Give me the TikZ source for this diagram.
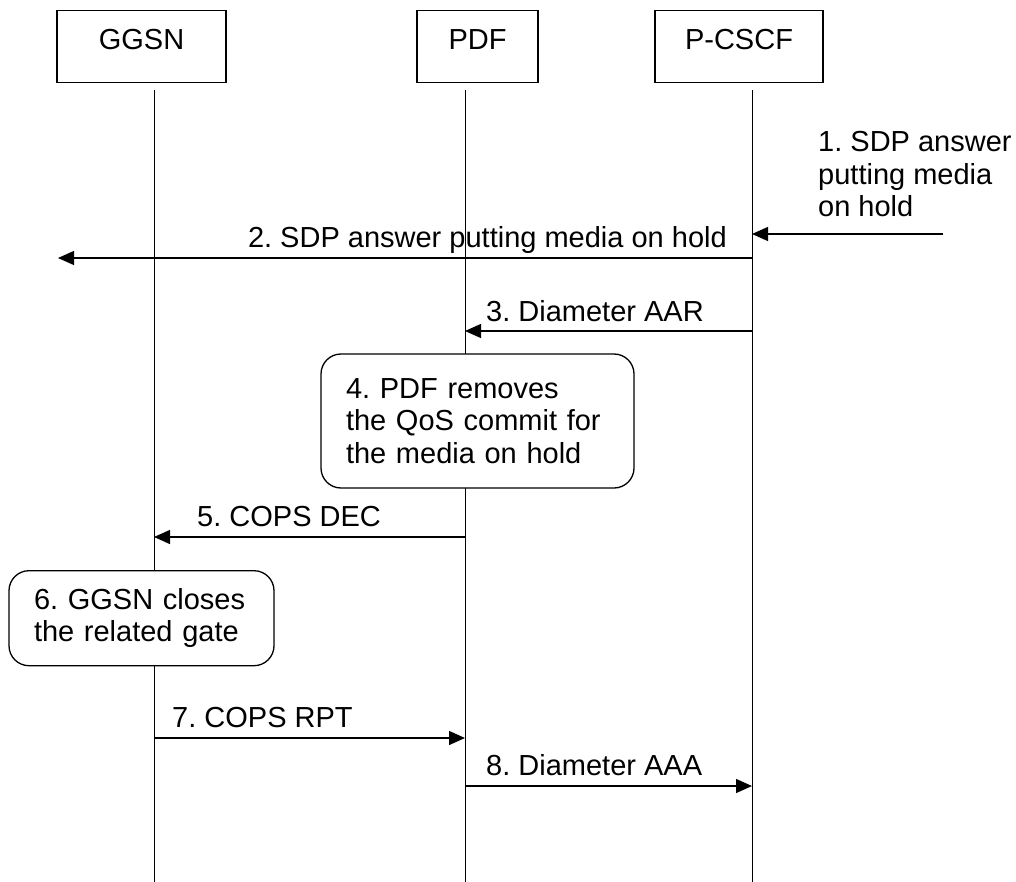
\documentclass[tikz,border=0pt]{standalone}
\usepackage{fontspec}
\setmainfont{Liberation Sans}
\usetikzlibrary{arrows.meta}
\begin{document}
\frenchspacing
\begin{tikzpicture}[x=1pt,y=-1pt,
  every node/.style={font=\fontsize{29}{32.5}\selectfont\frenchspacing},
  entbox/.style={draw,line width=1.6pt,minimum height=72pt,inner sep=0pt,text height=21pt,text depth=16pt},
  procbox/.style={draw,line width=1.3pt,rounded corners=20pt,inner xsep=25pt,inner ysep=0pt,align=left},
  lifeline/.style={line width=1pt},
  msg/.style={line width=1.3pt,-{Triangle[length=16pt,width=14pt]}},
  lbl/.style={inner sep=0pt}
]
\useasboundingbox (0,0) rectangle (1016,882);
% entities
\node[entbox,minimum width=169pt] (ggsn) at (141.5,46.7) {GGSN};
\node[entbox,minimum width=121pt] (pdf) at (477.5,46.7) {PDF};
\node[entbox,minimum width=168pt] (pcscf) at (739,46.7) {P-CSCF};
% lifelines
\coordinate (gtop) at (154,90);  \coordinate (gbot) at (154,882);
\coordinate (ptop) at (465,90);  \coordinate (pbot) at (465,882);
\coordinate (ctop) at (752,90);  \coordinate (cbot) at (752,882);
\draw[lifeline] (gtop) -- (gbot);
\draw[lifeline] (ptop) -- (pbot);
\draw[lifeline] (ctop) -- (cbot);
% message end points
\coordinate (m1s) at (943,234); \coordinate (m1e) at (752,234);
\coordinate (m2s) at (752,258); \coordinate (m2e) at (58,258);
\coordinate (m3s) at (752,331); \coordinate (m3e) at (465,331);
\coordinate (m5s) at (465,537); \coordinate (m5e) at (154,537);
\coordinate (m7s) at (154,738); \coordinate (m7e) at (465,738);
\coordinate (m8s) at (465,786); \coordinate (m8e) at (752,786);
% messages
\draw[msg] (m1s) -- (m1e);
\draw[msg] (m2s) -- (m2e);
\draw[msg] (m3s) -- (m3e);
\draw[msg] (m5s) -- (m5e);
\draw[msg] (m7s) -- (m7e);
\draw[msg] (m8s) -- (m8e);
% labels
\node[lbl,anchor=north west,align=left] (l1) at (818,131.5) {1. SDP answer\\putting media\\on hold};
\node[lbl,anchor=base east] (l2) at (727,248) {2. SDP answer putting media on hold};
\node[lbl,anchor=base west] (l3) at (486,321) {3. Diameter AAR};
\node[lbl,anchor=base west] (l5) at (197,526) {5. COPS DEC};
\node[lbl,anchor=base west] (l7) at (172,727) {7. COPS RPT};
\node[lbl,anchor=base west] (l8) at (486,775) {8. Diameter AAA};
% process boxes
\node[procbox,fill=white,text width=263pt,minimum height=134pt] (s4) at (477.5,421) {4. PDF removes\\the QoS commit for\\the media on hold};
\node[procbox,fill=white,text width=215pt,minimum height=95pt] (s6) at (141.5,618.2) {6. GGSN closes\\the related gate};
\end{tikzpicture}
\end{document}
